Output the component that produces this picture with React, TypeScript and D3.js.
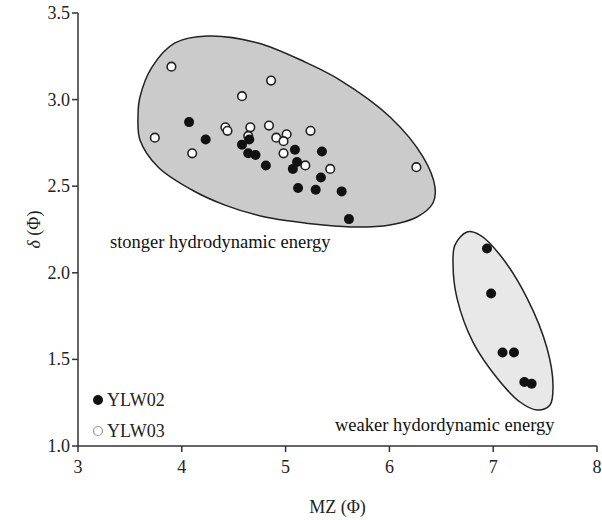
import React from 'react';
import * as d3 from 'd3';

const W = 602;
const H = 520;
const MARGIN = { top: 13, right: 5, bottom: 74, left: 78 };

// YLW02 (filled) samples: [MZ, delta]
const ylw02: [number, number][] = [
  [4.07, 2.87], [4.23, 2.77], [4.65, 2.77], [4.58, 2.74], [4.64, 2.69],
  [4.71, 2.68], [4.81, 2.62], [5.09, 2.71], [5.11, 2.64], [5.07, 2.6],
  [5.35, 2.7], [5.34, 2.55], [5.12, 2.49], [5.29, 2.48], [5.54, 2.47],
  [5.61, 2.31],
  [6.94, 2.14], [6.98, 1.88], [7.09, 1.54], [7.2, 1.54], [7.3, 1.37], [7.37, 1.36],
];

// YLW03 (open) samples
const ylw03: [number, number][] = [
  [3.9, 3.19], [4.86, 3.11], [4.58, 3.02], [3.74, 2.78], [4.1, 2.69],
  [4.42, 2.84], [4.44, 2.82], [4.66, 2.84], [4.64, 2.79], [4.84, 2.85],
  [4.91, 2.78], [5.01, 2.8], [4.98, 2.76], [4.98, 2.69], [5.24, 2.82],
  [5.19, 2.62], [5.43, 2.6], [6.26, 2.61],
];

// hand-drawn group outlines, in data units
const strongOutline: [number, number][] = [
  [4.25, 3.367], [4.734, 3.327], [5.187, 3.217], [5.524, 3.113], [6.006, 2.9],
  [6.324, 2.669], [6.439, 2.495], [6.42, 2.403], [6.266, 2.322], [6.006, 2.276],
  [5.688, 2.264], [5.36, 2.276], [5.042, 2.299], [4.802, 2.322], [4.416, 2.391],
  [4.098, 2.478], [3.771, 2.611], [3.597, 2.767], [3.578, 2.9], [3.597, 3.015],
  [3.713, 3.188], [3.934, 3.327],
];

const weakOutline: [number, number][] = [
  [6.748, 2.236], [6.632, 2.161], [6.613, 2.045], [6.651, 1.854], [6.805, 1.6],
  [7.037, 1.393], [7.258, 1.254], [7.422, 1.208], [7.547, 1.237], [7.576, 1.352],
  [7.518, 1.566], [7.326, 1.854], [7.066, 2.103], [6.873, 2.218],
];

const xTicks = [3, 4, 5, 6, 7, 8];
const yTicks = [1.0, 1.5, 2.0, 2.5, 3.0, 3.5];

const FONT = '"Liberation Serif", "Times New Roman", serif';
const AXIS = '#333';

export default function App() {
  const x = d3.scaleLinear().domain([3, 8]).range([MARGIN.left, W - MARGIN.right]);
  const y = d3.scaleLinear().domain([1, 3.5]).range([H - MARGIN.bottom, MARGIN.top]);

  const outline = d3.line<[number, number]>()
    .x(d => x(d[0]))
    .y(d => y(d[1]))
    .curve(d3.curveCatmullRomClosed.alpha(0.5));

  return (
    <svg width={W} height={H} style={{ position: 'absolute', left: 0, top: 0, background: '#fff' }}
      fontFamily={FONT}>
      {/* group outlines */}
      <path d={outline(strongOutline) || ''} fill="#cbcbcb" stroke="#222" strokeWidth={1.5} />
      <path d={outline(weakOutline) || ''} fill="#e8e8e8" stroke="#222" strokeWidth={1.5} />

      <text x={110} y={248} fontSize={18.5} fill="#111">stonger hydrodynamic energy</text>
      <text x={335} y={431} fontSize={18.5} fill="#111">weaker hydordynamic energy</text>

      {/* axes */}
      <line x1={x(3)} x2={x(8)} y1={y(1)} y2={y(1)} stroke={AXIS} strokeWidth={1.5} />
      <line x1={x(3)} x2={x(3)} y1={y(1)} y2={y(3.5)} stroke={AXIS} strokeWidth={1.5} />
      {xTicks.map(t => (
        <g key={t}>
          <line x1={x(t)} x2={x(t)} y1={y(1)} y2={y(1) + 6} stroke={AXIS} strokeWidth={1.5} />
          <text x={x(t)} y={y(1) + 27} fontSize={18} textAnchor="middle" fill="#222">{t}</text>
        </g>
      ))}
      {yTicks.map(t => (
        <g key={t}>
          <line x1={x(3) - 6} x2={x(3)} y1={y(t)} y2={y(t)} stroke={AXIS} strokeWidth={1.5} />
          <text x={x(3) - 8} y={y(t) + 6} fontSize={18} textAnchor="end" fill="#222">{t.toFixed(1)}</text>
        </g>
      ))}
      <text x={(x(3) + x(8)) / 2} y={513} fontSize={18} textAnchor="middle" fill="#222">MZ (Φ)</text>
      <text transform={`translate(40,${(y(1) + y(3.5)) / 2}) rotate(-90)`} fontSize={18}
        textAnchor="middle" fill="#222"><tspan fontStyle="italic">δ</tspan> (Φ)</text>

      {/* points */}
      {ylw03.map((d, i) => (
        <circle key={'o' + i} cx={x(d[0])} cy={y(d[1])} r={4.3} fill="#fff" stroke="#222" strokeWidth={1.6} />
      ))}
      {ylw02.map((d, i) => (
        <circle key={'f' + i} cx={x(d[0])} cy={y(d[1])} r={5} fill="#111" />
      ))}

      {/* legend */}
      <circle cx={98} cy={400} r={5} fill="#111" />
      <text x={107} y={406} fontSize={18} fill="#222">YLW02</text>
      <circle cx={98} cy={431} r={4.5} fill="#fff" stroke="#999" strokeWidth={1.2} />
      <text x={107} y={437} fontSize={18} fill="#222">YLW03</text>
    </svg>
  );
}
